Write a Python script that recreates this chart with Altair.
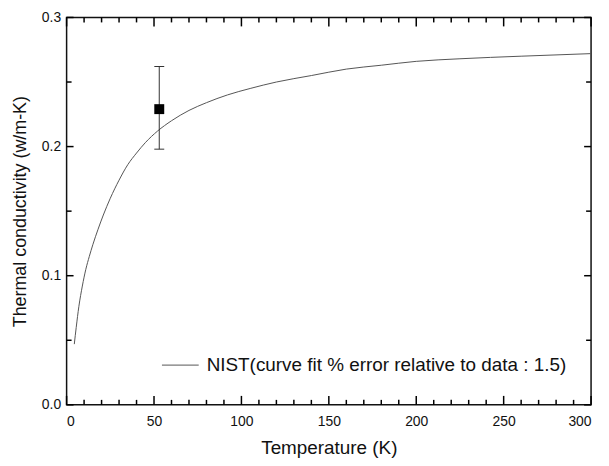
import altair as alt
import pandas as pd

# NIST curve fit
temp_K = [4.4, 5.5, 7, 9, 11, 13, 15, 18, 21, 25, 30, 35, 40, 45, 52, 60, 70,
          80, 92, 105, 120, 140, 160, 180, 200, 225, 260, 300]
k_fit = [0.047, 0.060, 0.076, 0.092, 0.105, 0.115, 0.124, 0.136, 0.147, 0.160,
         0.174, 0.186, 0.195, 0.203, 0.212, 0.220, 0.228, 0.234, 0.240, 0.245,
         0.250, 0.255, 0.260, 0.263, 0.266, 0.268, 0.270, 0.272]

# measured point with error bar
meas_T = [53]
meas_k = [0.229]
meas_lo = [0.198]
meas_hi = [0.262]

x_labels = [0, 50, 100, 150, 200, 250, 300]
x_minor = list(range(0, 301, 10))
y_labels = [0.0, 0.1, 0.2, 0.3]
y_minor = [0.0, 0.05, 0.1, 0.15, 0.2, 0.25, 0.3]
legend_label = ["NIST(curve fit % error relative to data : 1.5)"]

W, H = 528, 390
X_MIN, X_MAX = 0, 300
Y_MIN, Y_MAX = 0.0, 0.3
FONT = "Liberation Sans"
INK = "#000000"

xs = alt.Scale(domain=[X_MIN, X_MAX], nice=False, zero=False)
ys = alt.Scale(domain=[Y_MIN, Y_MAX], nice=False, zero=False)

x_axis = alt.Axis(title="Temperature (K)", values=x_labels, format="d",
                  ticks=False, tickSize=0, domain=False, grid=False,
                  labelFontSize=14, titleFontSize=19, labelPadding=10,
                  titlePadding=10)
y_axis = alt.Axis(title="Thermal conductivity (w/m-K)", values=y_labels,
                  format=".1f", ticks=False, tickSize=0, domain=False,
                  grid=False, labelFontSize=14, titleFontSize=18,
                  labelPadding=6, titlePadding=12)


def X(f):
    return alt.X(f, type="quantitative", scale=xs, axis=x_axis)


def Y(f):
    return alt.Y(f, type="quantitative", scale=ys, axis=y_axis)


curve_df = pd.DataFrame({"T": temp_K, "k": k_fit})
meas_df = pd.DataFrame({"T": meas_T, "k": meas_k, "lo": meas_lo, "hi": meas_hi})
legend_df = pd.DataFrame({"label": legend_label})

# inward tick marks as short segments (pixel length -> data units)
ky = (Y_MAX - Y_MIN) / H
kx = (X_MAX - X_MIN) / W
rows = []
for v in x_minor:
    L = 9 if v in x_labels else 5
    rows.append({"T": v, "k": Y_MIN, "T2": v, "k2": Y_MIN + L * ky})
    rows.append({"T": v, "k": Y_MAX, "T2": v, "k2": Y_MAX - L * ky})
for v in y_minor:
    L = 7 if any(abs(v - m) < 1e-9 for m in y_labels) else 5
    rows.append({"T": X_MIN, "k": v, "T2": X_MIN + L * kx, "k2": v})
    rows.append({"T": X_MAX, "k": v, "T2": X_MAX - L * kx, "k2": v})
tick_df = pd.DataFrame(rows)

curve = alt.Chart(curve_df).mark_line(
    color="#555555", strokeWidth=1, interpolate="monotone"
).encode(x=X("T"), y=Y("k"))

ticks = alt.Chart(tick_df).mark_rule(color=INK, strokeWidth=1.5, opacity=1).encode(
    x=X("T"), x2="T2", y=Y("k"), y2="k2")

err = alt.Chart(meas_df).mark_rule(color="#333333", strokeWidth=1).encode(
    x=X("T"), y=Y("lo"), y2="hi")
cap_lo = alt.Chart(meas_df).mark_tick(
    orient="horizontal", size=10, thickness=1, color="#333333", opacity=1
).encode(x=X("T"), y=Y("lo"))
cap_hi = alt.Chart(meas_df).mark_tick(
    orient="horizontal", size=10, thickness=1, color="#333333", opacity=1
).encode(x=X("T"), y=Y("hi"))
point = alt.Chart(meas_df).mark_square(
    size=100, color="#000000", filled=True, opacity=1
).encode(x=X("T"), y=Y("k"))

leg_line = alt.Chart(legend_df).mark_rule(color="#555555", strokeWidth=1).encode(
    x=alt.value(96), x2=alt.value(133), y=alt.value(350))
leg_text = alt.Chart(legend_df).mark_text(
    align="left", baseline="middle", fontSize=19, font=FONT, color="#111111"
).encode(x=alt.value(141), y=alt.value(350), text="label:N")

chart = alt.layer(
    curve, ticks, err, cap_lo, cap_hi, point, leg_line, leg_text
).properties(
    width=W, height=H,
    autosize=alt.AutoSizeParams(type="none"),
    padding={"left": 59, "top": 8, "right": 10, "bottom": 52},
).configure_view(
    stroke="#111111", strokeWidth=1.5
).configure_axis(
    labelFont=FONT, titleFont=FONT, labelColor="#111111",
    titleColor="#111111", titleFontWeight="normal"
)

chart.save("out.html", embed_options={"renderer": "svg", "actions": False})
